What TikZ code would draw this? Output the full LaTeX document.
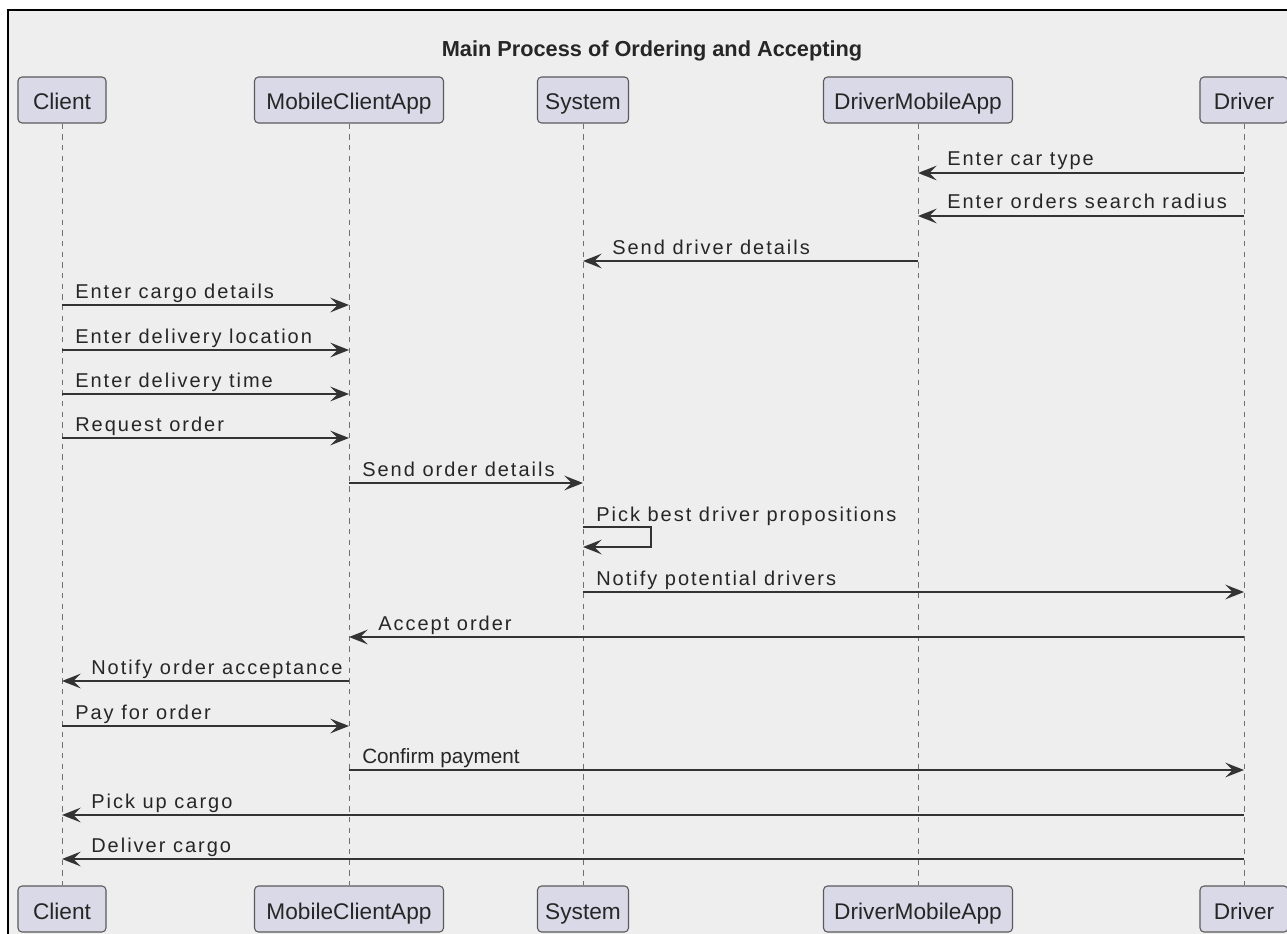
\documentclass[tikz,border=0pt]{standalone}
\usepackage{fontspec}
\setmainfont{Liberation Sans}
\newfontfamily\msgfont[LetterSpace=10]{Liberation Sans}
\usetikzlibrary{arrows.meta,calc}

\definecolor{pagebg}{HTML}{EEEEEE}
\definecolor{boxfill}{HTML}{D9D9E7}
\definecolor{boxline}{HTML}{5A5A5A}
\definecolor{lineclr}{HTML}{333333}
\definecolor{lifeclr}{HTML}{707070}
\definecolor{txt}{HTML}{262626}

\tikzset{
  participant/.style={draw=boxline, fill=boxfill, line width=0.8pt, rounded corners=3pt,
    minimum height=34.5pt, inner sep=0pt, text height=17pt, text depth=2pt,
    text=txt, font=\fontsize{17}{20}\selectfont},
  lifeline/.style={draw=lifeclr, line width=0.7pt, dash pattern=on 4pt off 4pt},
  msgline/.style={draw=lineclr, line width=1.5pt,
    -{Stealth[length=14pt,width=11pt,inset=5.5pt]}},
  msglbl/.style={anchor=base west, inner sep=0pt, text=txt, font=\msgfont\fontsize{15}{18}\selectfont},
  plainlbl/.style={anchor=base west, inner sep=0pt, text=txt, font=\fontsize{15.5}{18}\selectfont},
  frameline/.style={draw=black, line width=2pt, fill=pagebg},
}

% message pointing right: label starts just after the source lifeline
\newcommand{\msgright}[5][msglbl]{%
  \draw[msgline] (#2 |- 0,#4) -- (#3 |- 0,#4);
  \node[#1] at ($(#2 |- 0,#4)+(13,-7)$) {#5};}
% message pointing left: label starts past the arrowhead on the target lifeline
\newcommand{\msgleft}[5][msglbl]{%
  \draw[msgline] (#2 |- 0,#4) -- (#3 |- 0,#4);
  \node[#1] at ($(#3 |- 0,#4)+(29,-7)$) {#5};}

\begin{document}
\begin{tikzpicture}[x=0.75pt,y=-0.75pt]
\useasboundingbox (0,0) rectangle (1287,934);
\clip (0,0) rectangle (1287,934);
\fill[white] (0,0) rectangle (1287,934);
\path[frameline] (8,10) rectangle (1330,990);

\node[font=\bfseries\fontsize{16.3}{20}\selectfont, text=txt, anchor=base] (title) at (652,57)
  {Main Process of Ordering and Accepting};

% participants, top row
\node[participant, minimum width=66pt]     (cT) at (62,100)   {Client};
\node[participant, minimum width=141.75pt] (mT) at (349,100)  {MobileClientApp};
\node[participant, minimum width=68.25pt]  (sT) at (583,100)  {System};
\node[participant, minimum width=141.75pt] (aT) at (918,100)  {DriverMobileApp};
\node[participant, minimum width=66pt]     (dT) at (1244,100) {Driver};
% participants, bottom row
\node[participant, minimum width=66pt]     (cB) at (62,909)   {Client};
\node[participant, minimum width=141.75pt] (mB) at (349,909)  {MobileClientApp};
\node[participant, minimum width=68.25pt]  (sB) at (583,909)  {System};
\node[participant, minimum width=141.75pt] (aB) at (918,909)  {DriverMobileApp};
\node[participant, minimum width=66pt]     (dB) at (1244,909) {Driver};

% lifelines
\foreach \p in {c,m,s,a,d}{
  \draw[lifeline] (\p T.south) -- (\p B.north);
}

% messages
\msgleft{dT}{aT}{173}{Enter car type}
\msgleft{dT}{aT}{216}{Enter orders search radius}
\msgleft{aT}{sT}{261}{Send driver details}
\msgright{cT}{mT}{305}{Enter cargo details}
\msgright{cT}{mT}{350}{Enter delivery location}
\msgright{cT}{mT}{394}{Enter delivery time}
\msgright{cT}{mT}{438}{Request order}
\msgright{mT}{sT}{483}{Send order details}

% self message on System
\coordinate (selfA) at (sT |- 0,527);
\coordinate (selfB) at (sT |- 0,547);
\draw[msgline] (selfA) -- ++(68,0) |- (selfB);
\node[msglbl] at ($(selfA)+(13,-6)$) {Pick best driver propositions};

\msgright{sT}{dT}{592}{Notify potential drivers}
\msgleft{dT}{mT}{637}{Accept order}
\msgleft{mT}{cT}{681}{Notify order acceptance}
\msgright{cT}{mT}{726}{Pay for order}
\msgright[plainlbl]{mT}{dT}{770}{Confirm payment}
\msgleft{dT}{cT}{815}{Pick up cargo}
\msgleft{dT}{cT}{859}{Deliver cargo}
\end{tikzpicture}
\end{document}
